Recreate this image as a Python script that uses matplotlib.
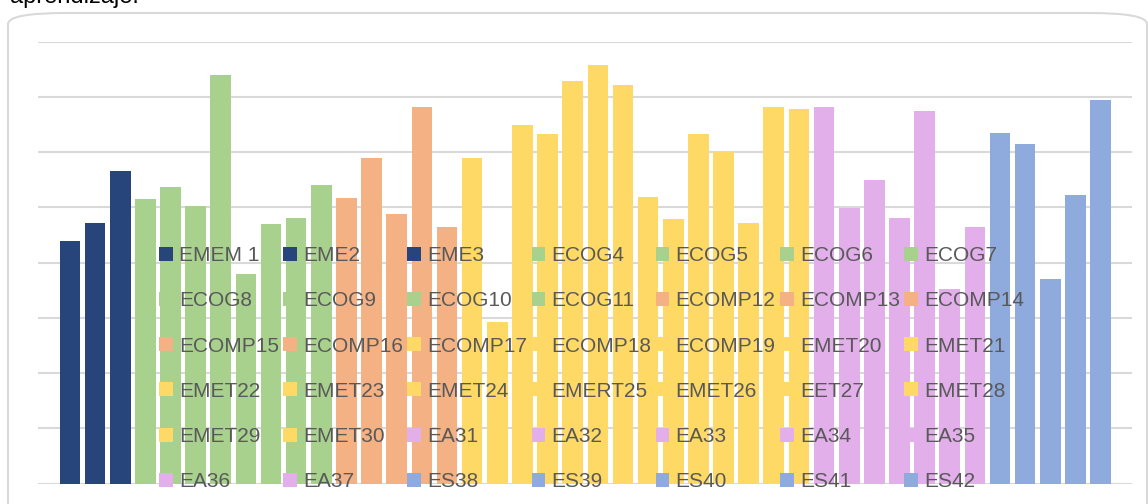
import numpy as np
import matplotlib.pyplot as plt
from matplotlib.patches import Patch, FancyBboxPatch

labels = ['EMEM 1', 'EME2', 'EME3',
          'ECOG4', 'ECOG5', 'ECOG6', 'ECOG7', 'ECOG8', 'ECOG9', 'ECOG10', 'ECOG11',
          'ECOMP12', 'ECOMP13', 'ECOMP14', 'ECOMP15', 'ECOMP16',
          'ECOMP17', 'ECOMP18', 'ECOMP19', 'EMET20', 'EMET21', 'EMET22', 'EMET23',
          'EMET24', 'EMERT25', 'EMET26', 'EET27', 'EMET28', 'EMET29', 'EMET30',
          'EA31', 'EA32', 'EA33', 'EA34', 'EA35', 'EA36', 'EA37',
          'ES38', 'ES39', 'ES40', 'ES41', 'ES42']

values = [4.39, 4.72, 5.66,
          5.15, 5.37, 5.03, 7.40, 3.80, 4.70, 4.81, 5.41,
          5.17, 5.90, 4.88, 6.82, 4.65,
          5.90, 2.93, 6.49, 6.33, 7.29, 7.58, 7.22,
          5.19, 4.79, 6.33, 6.01, 4.72, 6.82, 6.78,
          6.82, 4.99, 5.50, 4.81, 6.75, 3.52, 4.65,
          6.35, 6.15, 3.70, 5.23, 6.95]

group_sizes = [3, 8, 5, 14, 7, 5]
group_colors = ['#27457a', '#a9d18e', '#f4b183', '#ffd966', '#e2afeb', '#8faadc']

colors = []
for n, c in zip(group_sizes, group_colors):
    colors += [c] * n

W, H = 1148, 504
fig = plt.figure(figsize=(W / 100, H / 100), dpi=100)
plt.rcParams['font.family'] = ['Liberation Sans', 'DejaVu Sans']

# outer rounded frame
frame = FancyBboxPatch((8 / W, -0.1), (1147 - 8) / W, (504 - 13) / H + 0.1,
                       boxstyle='round,pad=0,rounding_size=0.05',
                       transform=fig.transFigure, facecolor='none',
                       edgecolor='#d9d9d9', lw=1.5, mutation_aspect=H / W,
                       zorder=-1)
fig.patches.append(frame)

fig.text(10 / W, 1 - 3 / H, 'aprendizaje.', fontsize=17, color='black',
         va='baseline', ha='left')

ax = fig.add_axes([38 / W, (H - 483.5) / H, (1132 - 38) / W, (483.5 - 41.7) / H])
ax.patch.set_alpha(0)
x = np.arange(len(values))
ax.bar(x, values, width=0.82, color=colors, zorder=2)
ax.set_xlim(-1.27, len(values) - 1 + 1.25)
ax.set_ylim(0, 8)
ax.set_yticks(np.arange(0, 9))
ax.yaxis.grid(True, color='#d9d9d9', lw=1.5, zorder=0)
ax.set_axisbelow(True)
ax.tick_params(left=False, bottom=False, labelleft=False, labelbottom=False)
for s in ax.spines.values():
    s.set_visible(False)

handles = [Patch(facecolor=c, edgecolor='none') for c in colors]
ncol, nrow = 7, 6
order = [r * ncol + c for c in range(ncol) for r in range(nrow)]
leg = ax.legend([handles[i] for i in order], [labels[i] for i in order],
                ncol=ncol, frameon=False, loc='upper left',
                bbox_to_anchor=(159 / W, 1 - 246 / H),
                bbox_transform=fig.transFigure,
                fontsize=15, handlelength=0.66, handleheight=0.66,
                handletextpad=0.3, columnspacing=0.2, labelspacing=1.26,
                borderpad=0, borderaxespad=0)
for t in leg.get_texts():
    t.set_color('#595959')
leg.set_zorder(5)

fig.savefig('out.png', dpi=100)
